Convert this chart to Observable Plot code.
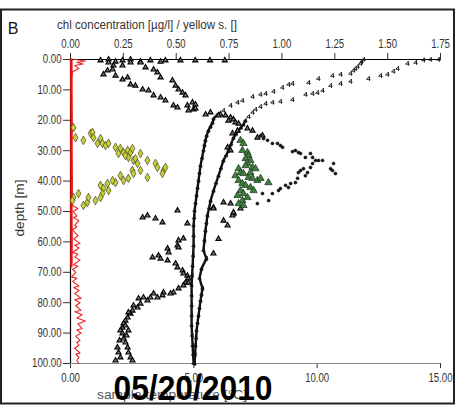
<!DOCTYPE html>
<html><head><meta charset="utf-8">
<script src="https://cdn.jsdelivr.net/npm/d3@7"></script>
<script src="https://cdn.jsdelivr.net/npm/@observablehq/plot@0.6"></script>
<style>
html,body{margin:0;padding:0;background:#fff;}
#chart{width:457px;height:406px;}
</style></head><body><div id="chart"></div>
<script>
// ---- axes / labels ----
const chlTicks = [0, 0.25, 0.5, 0.75, 1.0, 1.25, 1.5, 1.75];
const tempTicks = [0, 5, 10, 15];
const depthTicks = [0, 10, 20, 30, 40, 50, 60, 70, 80, 90, 100];
const panelLabel = "B";
const topLabel = "chl concentration [µg/l] / yellow s. []";
const leftLabel = "depth [m]";
const bottomLabel = "sample temperature [°C]";
const dateLabel = "05/20/2010";

// ---- temperature profiles [°C, depth m] ----
const tempA = [[11.88,0],[11.80,0.7],[11.76,1.3],[11.64,2.3],[11.55,3.0],[11.47,3.6],[11.35,4.6],[10.95,4.9],[10.62,5.3],[10.05,6.3],
 [9.65,7.6],[9.00,7.9],[8.84,8.2],[8.59,9.2],[8.23,10.5],[7.91,11.2],[7.70,11.5],[7.38,12.2],[6.97,13.5],[6.77,14.1],
 [6.49,15.1],[6.20,16.8],[5.96,18.1],[5.80,19.4],[5.76,20.7],[5.68,22.0],[5.59,23.4],[5.52,25.0],[5.47,26.6],[5.43,28.2],[5.39,29.9],[5.33,32.4],[5.27,34.9],[5.23,37.3],[5.19,39.8],
 [5.15,42.2],[5.11,44.7],[5.07,47.2],[5.03,49.7],[5.01,52.1],[4.99,54.6],[4.99,58.0],[4.99,61.2],[4.97,64.5],[4.95,67.8],[4.93,71.0],[4.91,74.3],[4.91,77.6],[4.91,80.9],[4.91,84.2],[4.91,87.5],[4.93,90.8],[4.95,94.1],[4.97,97.0],[4.99,100]];
const tempB = [[14.92,0],[14.59,0],[14.31,0.2],[13.99,1.0],[13.66,1.3],[13.26,3.0],[13.09,3.9],[12.85,4.9],[12.57,5.3],[12.08,6.3],
 [11.35,7.2],[10.95,7.9],[10.54,8.6],[10.22,10.2],[10.01,10.9],[9.81,11.2],[9.53,11.5],[9.00,13.2],[8.51,13.8],[8.19,14.1],
 [7.91,14.5],[7.70,15.5],[7.50,16.4],[7.38,17.4],[7.22,18.8],[7.09,20.1],[7.01,21.4],[6.91,22.4],[6.81,23.4],[6.71,24.5],[6.61,25.7],[6.51,27.8],[6.41,29.9],[6.31,31.5],
 [6.20,33.2],[6.10,35.7],[6.00,38.2],[5.90,40.6],[5.80,43.1],[5.68,46.4],[5.62,48.8],[5.55,51.3],[5.51,53.8],[5.47,56.3],[5.43,59.5],[5.39,62.8],[5.51,65.5],[5.31,68.8],[5.23,72.0],
 [5.35,75.3],[5.31,77.3],[5.27,79.3],[5.23,81.7],[5.19,84.2],[5.15,86.6],[5.11,89.1],[5.09,91.6],[5.07,94.1],[5.05,97.0],[5.03,100]];

// ---- black triangle profile [value, depth] ----
const blackTri = [[0.142,0.3],[0.180,0],[0.213,0.7],[0.246,0.3],[0.284,0],[0.331,0.7],[0.378,0.3],[0.426,0.7],[0.449,0.3],[0.52,0.3],[0.59,0.3],[0.66,0.3],[0.73,0.3],
 [0.180,1.0],[0.203,2.0],[0.246,2.0],[0.284,1.0],[0.331,1.0],[0.355,2.6],[0.393,3.3],[0.411,4.3],[0.426,5.9],[0.482,6.9],[0.497,8.6],[0.511,9.9],[0.530,10.9],[0.544,11.8],[0.577,14.1],[0.591,14.8],[0.558,16.8],[0.582,16.4],
 [0.156,4.9],[0.175,3.6],[0.199,3.3],[0.213,5.3],[0.246,6.6],[0.270,5.9],[0.284,8.2],[0.307,8.6],[0.341,9.9],[0.369,10.2],[0.393,11.8],[0.426,12.5],[0.449,13.5],[0.487,15.1],[0.506,15.8],
 [0.639,18.1],[0.662,17.4],[0.709,18.1],[0.733,18.4],[0.757,19.1],[0.771,19.7],[0.553,15.1],[0.591,16.1],[0.700,18.4],[0.747,20.1],[0.780,20.7],[0.795,21.1],
 [0.766,24.3],[0.790,23.4],[0.837,22.7],[0.861,23.4],[0.884,25.7],[0.908,25.0],[0.743,28.9],[0.757,29.9],
 [0.676,48.7],[0.724,47.0],[0.757,47.4],[0.771,50.7],
 [0.506,49.7],[0.341,52.0],[0.364,51.3],[0.402,52.3],[0.435,53.6],[0.553,53.9],[0.511,59.5],[0.534,58.9],[0.506,61.2],[0.511,61.8],[0.459,62.2],[0.464,63.5],[0.388,65.1],[0.416,64.5],[0.426,65.5],[0.459,66.1],[0.497,67.1],[0.506,68.4],[0.530,69.4],[0.534,70.4],[0.553,71.1],[0.558,72.0],[0.544,73.4],
 [0.676,49.0],[0.724,53.0],[0.743,54.6],[0.766,51.3],[0.771,50.3],[0.804,49.0],[0.676,63.8],[0.700,59.0],
 [0.558,73.4],[0.534,74.3],[0.511,75.3],[0.487,76.6],[0.473,77.0],[0.440,76.6],[0.435,77.6],[0.411,78.3],[0.393,77.0],[0.378,78.3],[0.364,79.3],[0.345,78.3],[0.331,80.3],[0.322,78.6],[0.317,81.6],[0.298,80.9],[0.293,82.6],[0.284,83.6],[0.274,83.2],[0.270,84.9],[0.260,85.9],[0.251,86.8],[0.246,88.2],[0.236,89.1],[0.246,90.1],[0.251,91.8],[0.260,93.1],[0.270,94.7],[0.274,96.4],[0.284,98.0],[0.293,99.0],[0.222,94.7],[0.227,96.4],[0.236,98.0],[0.213,99.0],[0.260,87.5],[0.274,89.1],[0.265,90.8],[0.232,92.4]];

// ---- black dot loop [value, depth] ----
const blackDots = [[0.899,25.0],[0.913,26.0],[0.932,26.6],[0.955,27.6],[0.979,27.6],[0.993,28.3],[1.003,28.9],[1.050,30.3],[1.064,29.9],[1.078,30.6],[1.088,30.9],[1.111,32.2],[1.135,30.9],[1.145,32.2],[1.159,33.2],[1.173,33.2],[1.192,33.2],[1.145,34.2],[1.135,35.5],[1.244,34.2],[1.230,35.9],[1.239,36.5],[1.253,37.5],[1.102,35.9],[1.088,36.5],[1.078,37.2],[1.121,37.2],[1.111,38.2],[1.074,39.1],[1.064,40.5],[1.041,40.8],[1.031,42.1],[1.017,41.4],[0.993,42.4],[0.984,43.1],[0.955,44.1],[0.937,46.4],[0.908,44.1],[0.884,47.4]];

// ---- chl (green triangles) [value, depth] ----
const chlGreen = [[0.804,26.6],[0.818,27.6],[0.813,29.9],[0.837,30.6],[0.842,31.6],[0.828,32.6],[0.851,33.2],[0.837,34.2],[0.861,35.5],[0.875,35.9],[0.795,35.9],[0.804,37.2],[0.818,37.5],[0.842,38.8],[0.861,39.1],[0.884,39.8],[0.899,39.1],[0.936,40.5],[0.795,39.8],[0.813,40.8],[0.828,41.4],[0.851,42.1],[0.866,43.1],[0.804,43.1],[0.818,44.1],[0.837,45.4],[0.813,46.4],[0.795,47.4],[0.818,48.0],[0.780,38.2],[0.790,44.7],[0.851,37.2],[0.828,34.9]];

// ---- yellow diamonds [value, depth] ----
const yellowDia = [[0.014,22.4],[0.024,25.7],[0.061,26.6],[0.095,24.3],[0.104,24.0],[0.109,25.7],[0.142,26.0],[0.128,27.6],[0.151,27.6],[0.166,28.3],[0.180,27.6],[0.213,28.9],[0.236,29.3],[0.227,30.9],[0.251,30.6],[0.270,29.9],[0.284,30.6],[0.293,29.3],[0.274,32.2],[0.260,31.6],[0.298,33.2],[0.307,32.6],[0.317,34.2],[0.331,30.9],[0.364,33.2],[0.402,34.2],[0.411,35.5],[0.440,36.5],[0.449,35.5],[0.435,37.5],[0.364,38.8],[0.331,36.5],[0.293,36.5],[0.298,37.5],[0.274,39.1],[0.251,39.8],[0.236,38.2],[0.213,40.5],[0.199,39.8],[0.175,40.8],[0.180,43.1],[0.142,41.4],[0.156,42.4],[0.151,44.1],[0.142,45.4],[0.118,46.4],[0.080,47.0],[0.061,48.0],[0.085,45.4],[0.038,44.1],[0.014,45.4],[0.009,46.4]];

// ---- red profiles [value, depth] ----
const redBase = [[0.004,0],[0.004,10],[0.005,20],[0.004,30],[0.005,40],[0.004,50],[0.005,60],[0.004,68]];
const redZig = [[0.02,0],[0.07,0.5],[0.03,1],[0.06,1.5],[0.02,2],[0.04,3],[0.01,4],[0.005,6],[0.005,10],[0.006,20],[0.006,30],[0.008,40],[0.008,46],
 [0.01,48],[0.035,49],[0.012,50],[0.03,51.5],[0.015,52],[0.04,53],[0.02,54.5],[0.03,55],[0.01,56],[0.035,58],[0.015,59],[0.045,60.5],[0.02,61],[0.04,62],[0.01,63.5],[0.035,64],[0.02,65],[0.045,66],[0.015,67.5],[0.035,68],[0.01,69],[0.025,70],[0.005,71.5],[0.03,72],[0.01,73],[0.04,74.5],[0.015,75],[0.04,76],[0.02,77],[0.05,78.5],[0.02,79],[0.045,80],[0.025,81],[0.05,82.5],[0.02,83],[0.055,84],[0.03,85],[0.07,86],[0.035,87],[0.055,88.5],[0.03,89],[0.05,90],[0.025,91],[0.045,92.5],[0.03,93],[0.04,94],[0.02,95],[0.045,96.5],[0.025,97],[0.04,98],[0.03,99],[0.04,100]];

const K = 1.75 / 15; // temperature axis shares the plot width
const FONT = "'Liberation Sans', Arial, sans-serif";

const four = {
  draw(ctx, size) {
    const s = Math.sqrt(size / Math.PI);
    ctx.moveTo(s * 0.4, -s); ctx.lineTo(s * 0.4, s);
    ctx.moveTo(s * 0.4, -s); ctx.lineTo(-s * 0.8, s * 0.3); ctx.lineTo(s * 0.9, s * 0.3);
  }
};

const tA = tempA.map(([t, d]) => ({x: t * K, d}));
const tB = tempB.map(([t, d]) => ({x: t * K, d}));
const P = a => a.map(([v, d]) => ({x: v, d}));

const plot = Plot.plot({
  width: 457, height: 406,
  marginLeft: 70, marginRight: 17, marginTop: 59, marginBottom: 43,
  style: {fontFamily: FONT, fontSize: "12px", color: "#333", background: "#fff"},
  x: {domain: [0, 1.75]},
  y: {domain: [0, 100], reverse: true},
  marks: [
    Plot.axisX({anchor: "top", ticks: chlTicks, tickFormat: d3.format(".2f"), tickSize: 7, tickPadding: 5, label: null}),
    Plot.axisX({anchor: "bottom", ticks: tempTicks.map(t => t * K), tickFormat: d => (d / K).toFixed(2), tickSize: 5, tickPadding: 5, label: null}),
    Plot.axisY({anchor: "left", ticks: depthTicks, tickFormat: d => d.toFixed(2), tickSize: 7, tickPadding: 2, label: null}),
    Plot.ruleY([100], {stroke: "#888", strokeWidth: 1.2}),
    Plot.ruleX([0], {stroke: "#000", strokeWidth: 1.2}),
    Plot.ruleY([0], {stroke: "#000", strokeWidth: 1.2}),
    Plot.line(P(redZig), {x: "x", y: "d", stroke: "#ee2222", strokeWidth: 1.1}),
    Plot.line(P(redBase), {x: "x", y: "d", stroke: "#ee1111", strokeWidth: 2.5}),
    Plot.dot(P(yellowDia), {x: "x", y: "d", symbol: "diamond", r: 2.6, fill: "#c8cf3c", stroke: "#44441c", strokeWidth: 0.7}),
    Plot.line(tA.filter(p => p.d >= 18), {x: "x", y: "d", stroke: "#111", strokeWidth: 2.4}),
    Plot.line(tB.filter(p => p.d >= 20), {x: "x", y: "d", stroke: "#111", strokeWidth: 2.4}),
    Plot.dot(tA, {x: "x", y: "d", symbol: four, r: 2.3, fill: "none", stroke: "#111", strokeWidth: 0.9}),
    Plot.dot(tB, {x: "x", y: "d", symbol: four, r: 2.3, fill: "none", stroke: "#111", strokeWidth: 0.9}),
    Plot.dot(P(blackTri), {x: "x", y: "d", symbol: "triangle", r: 1.9, fill: "#777", stroke: "#000", strokeWidth: 1.1}),
    Plot.dot(P(blackDots), {x: "x", y: "d", r: 1.5, fill: "#111", stroke: "#111", strokeWidth: 0.6}),
    Plot.dot(P(chlGreen), {x: "x", y: "d", symbol: "triangle", r: 2.7, fill: "#3f7d3f", stroke: "#1a331a", strokeWidth: 0.7})
  ]
});
document.getElementById("chart").appendChild(plot);

const svg = d3.select(plot);
// condensed tick labels, as in the reference
svg.selectAll("g[aria-label$='tick label'] text").each(function () {
  const w = this.getComputedTextLength();
  this.setAttribute("textLength", (w * 0.8).toFixed(1));
  this.setAttribute("lengthAdjust", "spacingAndGlyphs");
});
svg.append("rect").attr("x", 1).attr("y", 9.5).attr("width", 453).attr("height", 394)
  .attr("fill", "none").attr("stroke", "#222").attr("stroke-width", 2);
svg.append("text").attr("x", 13).attr("y", 34).text(panelLabel)
  .style("font", "16px 'Liberation Sans', Arial, sans-serif").attr("fill", "#111");
svg.append("text").attr("x", 147).attr("y", 29).text(topLabel)
  .attr("textLength", 180).attr("lengthAdjust", "spacingAndGlyphs")
  .style("font-family", FONT).style("font-size", "12px").attr("fill", "#333");
svg.append("text").attr("transform", "translate(24,208) rotate(-90)").attr("text-anchor", "middle").text(leftLabel)
  .attr("textLength", 57).attr("lengthAdjust", "spacingAndGlyphs")
  .style("font-family", FONT).style("font-size", "12px").attr("fill", "#333");
svg.append("text").attr("x", 172).attr("y", 399).text(bottomLabel)
  .attr("textLength", 150).attr("lengthAdjust", "spacingAndGlyphs")
  .style("font-family", FONT).style("font-size", "12px").attr("fill", "#555");
svg.append("text").attr("x", 193).attr("y", 400).text(dateLabel)
  .attr("textLength", 159).attr("lengthAdjust", "spacingAndGlyphs")
  .style("font", "bold 35px 'Liberation Sans', Arial, sans-serif").attr("fill", "#000");
</script></body></html>
